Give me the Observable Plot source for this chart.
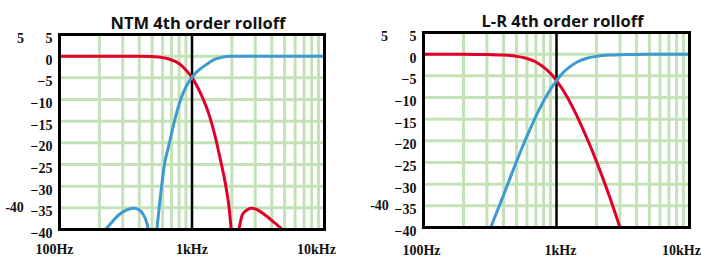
<!DOCTYPE html>
<html><head><meta charset="utf-8">
<script src="https://cdn.jsdelivr.net/npm/d3@7"></script>
<script src="https://cdn.jsdelivr.net/npm/@observablehq/plot@0.6"></script>
<style>
html,body{margin:0;padding:0;background:#fff;}
#wrap{position:relative;width:701px;height:261px;background:#fff;}
#left{position:absolute;left:0;top:0;}
#right{position:absolute;left:350px;top:0;}
svg{overflow:visible}
</style></head><body>
<div id="wrap"><div id="left"></div><div id="right"></div></div>
<script>
// ---- data ----
const titles = ["NTM 4th order rolloff", "L-R 4th order rolloff"];
const freqTicks = [100, 1000, 10000];
const freqTickLabels = ["100Hz", "1kHz", "10kHz"];
const gridFreqs = [200, 300, 400, 500, 600, 700, 800, 900, 2000, 3000, 4000, 5000, 6000, 7000, 8000, 9000];
const dbTicks = [5, 0, -5, -10, -15, -20, -25, -30, -35, -40];
const extraLabels = ["5", "-40"];

// NTM low-pass (red)
const ntmLowFreq = [100, 200, 300, 400, 498, 593, 658, 730, 797, 855, 917, 1000, 1072, 1150, 1233, 1322, 1417, 1520, 1630, 1748, 1842, 1906, 1975];
const ntmLowDb = [0, 0, 0, 0, -0.1, -0.3, -0.6, -1.1, -1.7, -2.5, -3.5, -4.9, -6.5, -8.3, -10.4, -12.8, -15.8, -19.4, -23.6, -27.9, -31.8, -35, -40];
const ntmLowHumpFreq = [2260, 2400, 2600, 2810, 3100, 3500, 4000, 4800];
const ntmLowHumpDb = [-40, -36.6, -35.5, -35.1, -35.4, -36.5, -37.9, -40];
// NTM high-pass (blue)
const ntmHighFreq = [543, 572, 598, 624, 658, 693, 730, 770, 811, 855, 901, 949, 1000, 1072, 1150, 1233, 1345, 1494, 1688, 1906, 3000, 10000];
const ntmHighDb = [-40, -33.5, -28.5, -24.5, -21.5, -18.5, -15.5, -12.8, -10.5, -8.6, -7.1, -5.9, -4.9, -3.8, -3.0, -2.3, -1.5, -0.7, -0.25, 0, 0, 0];
const ntmHighHumpFreq = [223, 250, 281, 316, 365, 400, 422, 453, 469];
const ntmHighHumpDb = [-40, -38.2, -36.6, -35.6, -35.1, -35.5, -36.2, -38.2, -40];
// L-R low-pass (red)
const lrLowFreq = [100, 200, 300, 400, 500, 600, 700, 800, 900, 1000, 1200, 1400, 1600, 1800, 2000, 2500, 3000];
const lrLowDb = [0, 0, -0.1, -0.2, -0.5, -1.0, -1.8, -3.0, -4.4, -6.1, -9.8, -13.8, -17.7, -21.3, -24.8, -32.8, -40];
// L-R high-pass (blue)
const lrHighFreq = [320, 400, 500, 556, 625, 714, 833, 1000, 1111, 1250, 1429, 1667, 2000, 2500, 3333, 5000, 10000];
const lrHighDb = [-40, -32.5, -24.8, -21.3, -17.7, -13.8, -9.8, -6.1, -4.4, -3.0, -1.8, -1.0, -0.5, -0.2, -0.1, 0, 0];

// ---- style ----
const GREEN = "#c3e2b8", RED = "#e2002a", BLUE = "#3d9bd0";
const SERIF = "'Liberation Serif', 'DejaVu Serif', serif";
const TITLE_FONT = "'Open Sans', Lato, sans-serif";

const pts = (fs, ds) => fs.map((f, i) => ({f, db: ds[i]}));

function panel(cfg) {
  const lineMarks = cfg.lines.map(l =>
    Plot.line(pts(l.f, l.d), {x: "f", y: "db", stroke: l.color, strokeWidth: 3, curve: "monotone-x", clip: true}));
  const xAxes = freqTicks.map((t, i) =>
    Plot.axisX([t], {tickSize: 0, tickPadding: cfg.xPad, dx: cfg.xDx[i], tickFormat: () => freqTickLabels[i], fontSize: 14, fontWeight: "bold", label: null}));
  return Plot.plot({
    width: cfg.width, height: 261,
    marginLeft: cfg.ml, marginRight: cfg.mr, marginTop: cfg.mt, marginBottom: cfg.mb,
    style: {fontFamily: SERIF, fontSize: "14px", fontWeight: "bold", color: "#111", background: "transparent", overflow: "visible"},
    x: {type: "log", domain: [100, 10000]},
    y: {domain: [-40, 5]},
    marks: [
      Plot.ruleX(gridFreqs, {stroke: GREEN, strokeWidth: 3}),
      Plot.ruleY(dbTicks, {stroke: GREEN, strokeWidth: 3}),
      Plot.ruleX([1000], {stroke: "#000", strokeWidth: 2.5}),
      ...lineMarks,
      Plot.frame({stroke: "#000", strokeWidth: 3}),
      Plot.axisY(dbTicks, {tickSize: 0, tickPadding: 7, dy: 4, fontSize: 14, fontWeight: "bold", label: null}),
      ...xAxes,
      Plot.text([cfg.title], {frameAnchor: "top", dy: -17, dx: cfg.titleDx, fontFamily: TITLE_FONT, fontSize: 16.5, fontWeight: "bold", fill: "#111"}),
      Plot.text([extraLabels[0]], {frameAnchor: "top-left", dx: -39, dy: -1.5, textAnchor: "middle", fontSize: 14, fontWeight: "bold", fill: "#111"}),
      Plot.text([extraLabels[1]], {frameAnchor: "bottom-left", dx: cfg.dx40, dy: -17.5, textAnchor: "middle", fontSize: 14, fontWeight: "bold", fill: "#111"})
    ]
  });
}

document.getElementById("left").append(panel({
  title: titles[0], width: 350, ml: 59, mr: 26, mt: 34, mb: 32, xPad: 15, xDx: [-5, 0, -8], titleDx: 6, dx40: -45,
  lines: [
    {f: ntmLowFreq, d: ntmLowDb, color: RED},
    {f: ntmLowHumpFreq, d: ntmLowHumpDb, color: RED},
    {f: ntmHighFreq, d: ntmHighDb, color: BLUE},
    {f: ntmHighHumpFreq, d: ntmHighHumpDb, color: BLUE}
  ]
}));
document.getElementById("right").append(panel({
  title: titles[1], width: 351, ml: 73, mr: 12, mt: 32, mb: 34, xPad: 18, xDx: [-2, 4, -8], titleDx: 6, dx40: -44,
  lines: [
    {f: lrLowFreq, d: lrLowDb, color: RED},
    {f: lrHighFreq, d: lrHighDb, color: BLUE}
  ]
}));
</script>
</body></html>
